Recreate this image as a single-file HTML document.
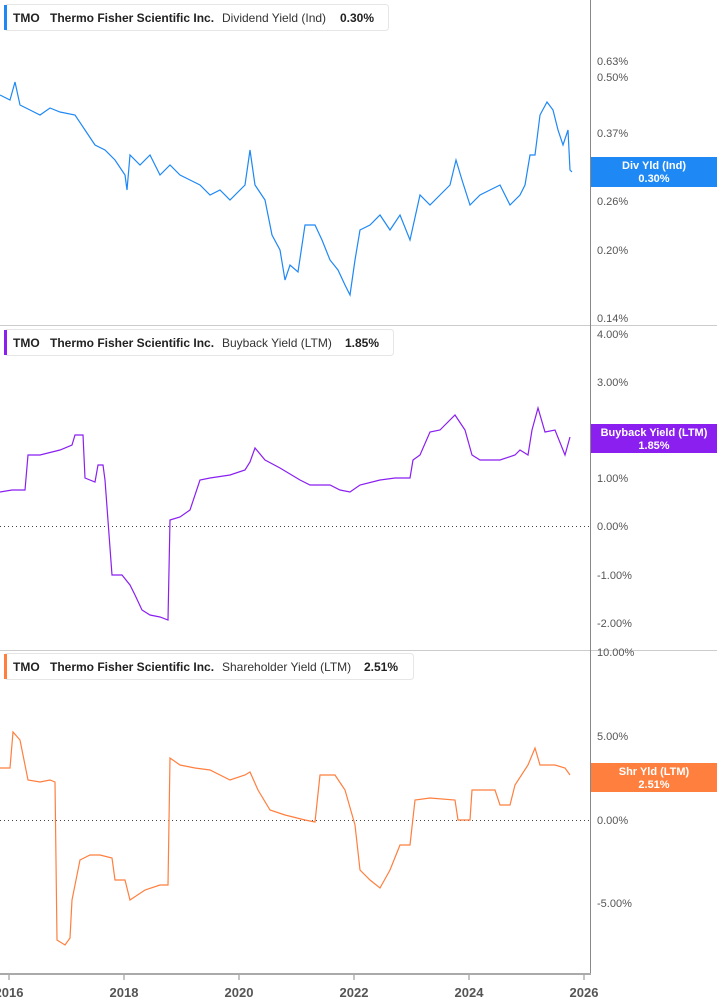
<!DOCTYPE html>
<html><head><meta charset="utf-8"><style>
body{margin:0;background:#fff;}
svg{display:block;font-family:"Liberation Sans",Arial,sans-serif;}
.ax{font-size:11px;fill:#555;}
.lg{font-size:12px;fill:#222;font-weight:bold;}
.ln{font-size:12px;fill:#333;}
.bx{font-size:11px;fill:#fff;font-weight:bold;}
</style></head><body>
<svg width="717" height="1005" viewBox="0 0 717 1005">
<rect width="717" height="1005" fill="#fff"/>
<line x1="0" y1="325.5" x2="717" y2="325.5" stroke="#ccc"/>
<line x1="0" y1="650.5" x2="717" y2="650.5" stroke="#ccc"/>
<line x1="590.5" y1="0" x2="590.5" y2="975" stroke="#888"/>
<line x1="0" y1="974" x2="591" y2="974" stroke="#aaa" stroke-width="2"/>
<line x1="0" y1="526.5" x2="590" y2="526.5" stroke="#444" stroke-dasharray="1,3"/>
<line x1="0" y1="820.5" x2="590" y2="820.5" stroke="#444" stroke-dasharray="1,3"/>
<g stroke="#888"><line x1="9" y1="975" x2="9" y2="980"/><line x1="124" y1="975" x2="124" y2="980"/><line x1="239" y1="975" x2="239" y2="980"/><line x1="354" y1="975" x2="354" y2="980"/><line x1="469" y1="975" x2="469" y2="980"/><line x1="584" y1="975" x2="584" y2="980"/></g>
<g class="ax" font-weight="bold" font-size="13" text-anchor="middle" fill="#666"><text x="9" y="997" style="font-size:13px">2016</text><text x="124" y="997" style="font-size:13px">2018</text><text x="239" y="997" style="font-size:13px">2020</text><text x="354" y="997" style="font-size:13px">2022</text><text x="469" y="997" style="font-size:13px">2024</text><text x="584" y="997" style="font-size:13px">2026</text></g>
<g class="ax">
<text x="597" y="65">0.63%</text><text x="597" y="81">0.50%</text><text x="597" y="137">0.37%</text><text x="597" y="205">0.26%</text><text x="597" y="254">0.20%</text><text x="597" y="322">0.14%</text>
<text x="597" y="338">4.00%</text><text x="597" y="386">3.00%</text><text x="597" y="482">1.00%</text><text x="597" y="530">0.00%</text><text x="597" y="579">-1.00%</text><text x="597" y="627">-2.00%</text>
<text x="597" y="656">10.00%</text><text x="597" y="740">5.00%</text><text x="597" y="824">0.00%</text><text x="597" y="907">-5.00%</text>
</g>
<polyline fill="none" stroke="#1e88f5" stroke-width="1.2" points="0,95 10,100 15,82 20,105 30,110 40,115 50,108 60,112 75,115 85,130 95,145 105,150 115,160 125,175 127,190 130,155 140,165 150,155 160,175 170,165 180,175 190,180 200,185 210,195 220,190 230,200 245,185 250,150 255,185 265,200 272,235 280,250 285,280 290,265 298,272 305,225 315,225 322,240 330,260 338,270 345,285 350,295 355,260 360,230 370,225 380,215 390,230 400,215 410,240 420,195 430,205 440,195 450,185 456,160 462,180 470,205 480,195 490,190 500,185 510,205 520,195 525,185 530,155 535,155 540,115 547,102 553,110 558,130 563,145 568,130 570,170 572,172"/>
<polyline fill="none" stroke="#8a1ff0" stroke-width="1.2" points="0,492 12,490 25,490 28,455 40,455 60,450 72,445 75,435 83,435 85,478 95,482 98,465 103,465 105,480 112,575 122,575 130,585 135,595 142,610 150,615 160,617 168,620 170,520 180,517 190,510 200,480 210,478 230,475 245,470 250,462 255,448 265,460 280,468 300,480 310,485 330,485 340,490 350,492 360,485 380,480 395,478 410,478 413,460 420,455 430,432 440,430 455,415 465,430 472,455 480,460 500,460 515,455 520,450 528,455 532,430 538,408 545,432 555,430 565,455 570,437"/>
<polyline fill="none" stroke="#ff7f3f" stroke-width="1.2" points="0,768 10,768 13,732 20,740 28,780 40,782 50,780 55,782 57,940 65,945 70,938 72,900 80,860 90,855 100,855 112,858 115,880 125,880 130,900 145,890 160,885 168,885 170,758 180,765 195,768 210,770 230,780 245,775 250,772 258,790 270,810 285,815 305,820 315,822 320,775 335,775 345,790 355,825 360,870 370,880 380,888 390,870 400,845 410,845 415,800 430,798 455,800 458,820 470,820 472,790 495,790 500,805 510,805 515,785 528,765 535,748 540,765 555,765 565,768 570,775"/>
<rect x="591" y="157" width="126" height="30" fill="#1e88f5"/>
<text class="bx" x="654" y="169" text-anchor="middle">Div Yld (Ind)</text><text class="bx" x="654" y="182" text-anchor="middle">0.30%</text>
<rect x="591" y="424" width="126" height="29" fill="#8a1ff0"/>
<text class="bx" x="654" y="436" text-anchor="middle">Buyback Yield (LTM)</text><text class="bx" x="654" y="449" text-anchor="middle">1.85%</text>
<rect x="591" y="763" width="126" height="29" fill="#ff7f3f"/>
<text class="bx" x="654" y="775" text-anchor="middle">Shr Yld (LTM)</text><text class="bx" x="654" y="788" text-anchor="middle">2.51%</text>
<g>
<rect x="4.5" y="4.5" width="384" height="26" rx="3" fill="#fff" stroke="#e6e6e6"/><rect x="4" y="5" width="3" height="25" fill="#1e88f5"/>
<text class="lg" x="13" y="22">TMO</text><text class="lg" x="50" y="22">Thermo Fisher Scientific Inc.</text><text class="ln" x="222" y="22">Dividend Yield (Ind)</text><text class="lg" x="340" y="22">0.30%</text>
<rect x="4.5" y="329.5" width="389" height="26" rx="3" fill="#fff" stroke="#e6e6e6"/><rect x="4" y="330" width="3" height="25" fill="#8a1ff0"/>
<text class="lg" x="13" y="347">TMO</text><text class="lg" x="50" y="347">Thermo Fisher Scientific Inc.</text><text class="ln" x="222" y="347">Buyback Yield (LTM)</text><text class="lg" x="345" y="347">1.85%</text>
<rect x="4.5" y="653.5" width="409" height="26" rx="3" fill="#fff" stroke="#e6e6e6"/><rect x="4" y="654" width="3" height="25" fill="#ff7f3f"/>
<text class="lg" x="13" y="671">TMO</text><text class="lg" x="50" y="671">Thermo Fisher Scientific Inc.</text><text class="ln" x="222" y="671">Shareholder Yield (LTM)</text><text class="lg" x="364" y="671">2.51%</text>
</g>
</svg>
</body></html>
